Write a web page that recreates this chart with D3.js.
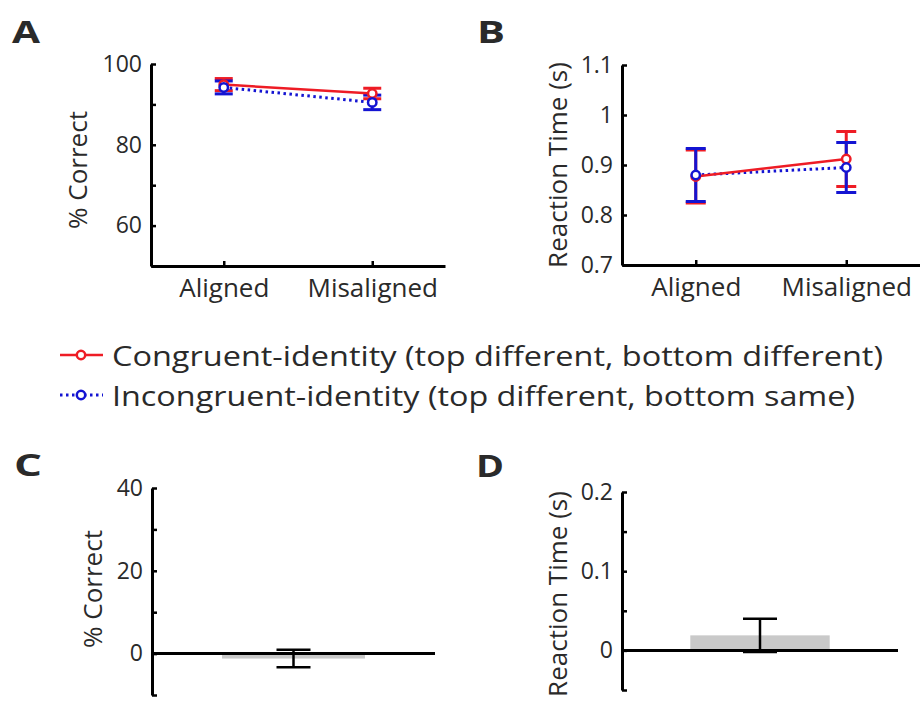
<!DOCTYPE html>
<html><head><meta charset="utf-8">
<script src="https://cdn.jsdelivr.net/npm/d3@7"></script>
<style>
body{margin:0;background:#fff}
text{font-family:"Open Sans",sans-serif;fill:#2a2a2a}
</style>
</head><body><svg id="c" width="920" height="702"></svg>
<script>
// ---- data ----
const categories = ["Aligned", "Misaligned"];
const seriesNames = ["Congruent-identity (top different, bottom different)",
                     "Incongruent-identity (top different, bottom same)"];
const accCongruent = [94.9, 92.7];
const accCongruentErr = [1.5, 1.3];
const accIncongruent = [94.2, 90.5];
const accIncongruentErr = [1.6, 1.8];
const rtCongruent = [0.877, 0.912];
const rtCongruentErr = [0.053, 0.055];
const rtIncongruent = [0.880, 0.895];
const rtIncongruentErr = [0.053, 0.050];
const accTicks = [50, 60, 70, 80, 90, 100];
const accTickLabels = ["", "60", "", "80", "", "100"];
const rtTicks = [0.7, 0.8, 0.9, 1.0, 1.1];
const rtTickLabels = ["0.7", "0.8", "0.9", "1", "1.1"];
const diffCategory = ["Difference"];
const accDiff = [-1.2];
const accDiffErr = [2.1];
const rtDiff = [0.019];
const rtDiffErr = [0.021];
const accDiffTicks = [-10, 0, 10, 20, 30, 40];
const accDiffTickLabels = ["", "0", "", "20", "", "40"];
const rtDiffTicks = [-0.05, 0, 0.05, 0.1, 0.15, 0.2];
const rtDiffTickLabels = ["", "0", "", "0.1", "", "0.2"];

const RED = "#ee1c25", BLUE = "#1414d2", GRAY = "#c9c9c9";
const svg = d3.select("#c");

function styleAxis(g, fs) {
  g.select(".domain").attr("stroke", "#000").attr("stroke-width", 3);
  g.selectAll(".tick line").attr("stroke", "#000").attr("stroke-width", 2.5);
  g.selectAll(".tick text").attr("font-size", fs).attr("fill", "#2a2a2a")
    .attr("font-family", "'Open Sans',sans-serif");
}
function yAxis(x, scale, ticks, labels) {
  const g = svg.append("g").attr("transform", `translate(${x},0)`)
    .call(d3.axisLeft(scale).tickValues(ticks)
      .tickFormat(d => labels[ticks.indexOf(d)])
      .tickSizeInner(-5).tickSizeOuter(0).tickPadding(9));
  styleAxis(g, 23);
  return g;
}
function yTitle(cx, cy, txt) {
  svg.append("text").attr("transform", `translate(${cx},${cy}) rotate(-90)`)
    .attr("text-anchor", "middle").attr("dominant-baseline", "central")
    .attr("font-size", 26).text(txt);
}
function letter(x, y, t) {
  svg.append("text").attr("x", x).attr("y", y).text(t)
    .attr("font-family", "'Liberation Sans',Arial,sans-serif")
    .attr("font-weight", "bold").attr("font-size", 30).attr("fill", "#000")
    .attr("textLength", 28).attr("lengthAdjust", "spacingAndGlyphs");
}

function linePanel(p) {
  const x = d3.scalePoint().domain(categories).range(p.xr).padding(0.49);
  const y = d3.scaleLinear().domain(p.yd).range(p.yr);
  yAxis(p.xr[0], y, p.ticks, p.labels);
  const gx = svg.append("g").attr("transform", `translate(0,${p.yr[0]})`)
    .call(d3.axisBottom(x).tickSizeInner(-5).tickSizeOuter(0).tickPadding(13));
  styleAxis(gx, 26);
  yTitle(p.titleX, p.titleY, p.title);

  const series = [
    {v: p.s1, e: p.e1, c: RED, dash: null},
    {v: p.s2, e: p.e2, c: BLUE, dash: "2.5,3.5"}
  ];
  series.forEach(s => {
    const g = svg.append("g").attr("stroke", s.c).attr("stroke-width", 3);
    categories.forEach((c, i) => {
      const cx = x(c), lo = y(s.v[i] - s.e[i]), hi = y(s.v[i] + s.e[i]);
      g.append("line").attr("x1", cx).attr("x2", cx).attr("y1", lo).attr("y2", hi);
      g.append("line").attr("x1", cx - p.cap).attr("x2", cx + p.cap).attr("y1", lo).attr("y2", lo);
      g.append("line").attr("x1", cx - p.cap).attr("x2", cx + p.cap).attr("y1", hi).attr("y2", hi);
    });
  });
  const line = d3.line().x((d, i) => x(categories[i])).y(d => y(d));
  [series[1], series[0]].forEach(s => {
    svg.append("path").datum(s.v).attr("d", line).attr("fill", "none")
      .attr("stroke", s.c).attr("stroke-width", s.dash ? 3 : 2.5)
      .attr("stroke-dasharray", s.dash);
  });
  series.forEach(s => {
    svg.append("g").selectAll("circle").data(s.v).join("circle")
      .attr("cx", (d, i) => x(categories[i])).attr("cy", d => y(d)).attr("r", 4.2)
      .attr("fill", "#fff").attr("stroke", s.c).attr("stroke-width", 2.5);
  });
}

function barPanel(p) {
  const x = d3.scaleBand().domain(diffCategory).range(p.xr).paddingOuter(0.49).paddingInner(0);
  const y = d3.scaleLinear().domain(p.yd).range(p.yr);
  svg.append("g").selectAll("rect").data(p.v).join("rect")
    .attr("x", (d, i) => x(diffCategory[i])).attr("width", x.bandwidth())
    .attr("y", d => Math.min(y(d), y(0))).attr("height", d => Math.abs(y(d) - y(0)))
    .attr("fill", GRAY);
  const g = svg.append("g").attr("stroke", "#000").attr("stroke-width", 2.5);
  p.v.forEach((v, i) => {
    const cx = x(diffCategory[i]) + x.bandwidth() / 2;
    const lo = y(v - p.e[i]), hi = y(v + p.e[i]);
    g.append("line").attr("x1", cx).attr("x2", cx).attr("y1", lo).attr("y2", hi);
    g.append("line").attr("x1", cx - 17).attr("x2", cx + 17).attr("y1", lo).attr("y2", lo);
    g.append("line").attr("x1", cx - 17).attr("x2", cx + 17).attr("y1", hi).attr("y2", hi);
  });
  svg.append("line").attr("x1", p.xr[0]).attr("x2", p.xr[1])
    .attr("y1", y(0)).attr("y2", y(0)).attr("stroke", "#000").attr("stroke-width", 3);
  yAxis(p.xr[0], y, p.ticks, p.labels);
  yTitle(p.titleX, p.titleY, p.title);
}

linePanel({xr: [151, 445], yd: [50, 100], yr: [266, 64], ticks: accTicks, labels: accTickLabels,
  s1: accCongruent, e1: accCongruentErr, s2: accIncongruent, e2: accIncongruentErr,
  cap: 9, title: "% Correct", titleX: 77, titleY: 170});
linePanel({xr: [622, 920], yd: [0.7, 1.1], yr: [265, 65], ticks: rtTicks, labels: rtTickLabels,
  s1: rtCongruent, e1: rtCongruentErr, s2: rtIncongruent, e2: rtIncongruentErr,
  cap: 10, title: "Reaction Time (s)", titleX: 557, titleY: 165});
barPanel({xr: [152, 435], yd: [-10, 40], yr: [695, 488], ticks: accDiffTicks, labels: accDiffTickLabels,
  v: accDiff, e: accDiffErr, title: "% Correct", titleX: 92, titleY: 589});
barPanel({xr: [622, 898], yd: [-0.05, 0.2], yr: [690, 492], ticks: rtDiffTicks, labels: rtDiffTickLabels,
  v: rtDiff, e: rtDiffErr, title: "Reaction Time (s)", titleX: 557, titleY: 594});

letter(12, 43, "A"); letter(477, 43, "B"); letter(14, 476, "C"); letter(476, 477, "D");

const legend = [
  {name: seriesNames[0], c: RED, dash: null, y: 355, w: 771},
  {name: seriesNames[1], c: BLUE, dash: "2.5,3.5", y: 395, w: 743}
];
legend.forEach(l => {
  const g = svg.append("g");
  g.append("line").attr("x1", 60).attr("x2", 103).attr("y1", l.y).attr("y2", l.y)
    .attr("stroke", l.c).attr("stroke-width", l.dash ? 3 : 2.5).attr("stroke-dasharray", l.dash);
  g.append("circle").attr("cx", 81).attr("cy", l.y).attr("r", 4.2)
    .attr("fill", "#fff").attr("stroke", l.c).attr("stroke-width", 2.5);
  g.append("text").attr("x", 112).attr("y", l.y + 11).attr("font-size", 28)
    .attr("textLength", l.w).attr("lengthAdjust", "spacingAndGlyphs").text(l.name);
});
</script>
</body></html>
